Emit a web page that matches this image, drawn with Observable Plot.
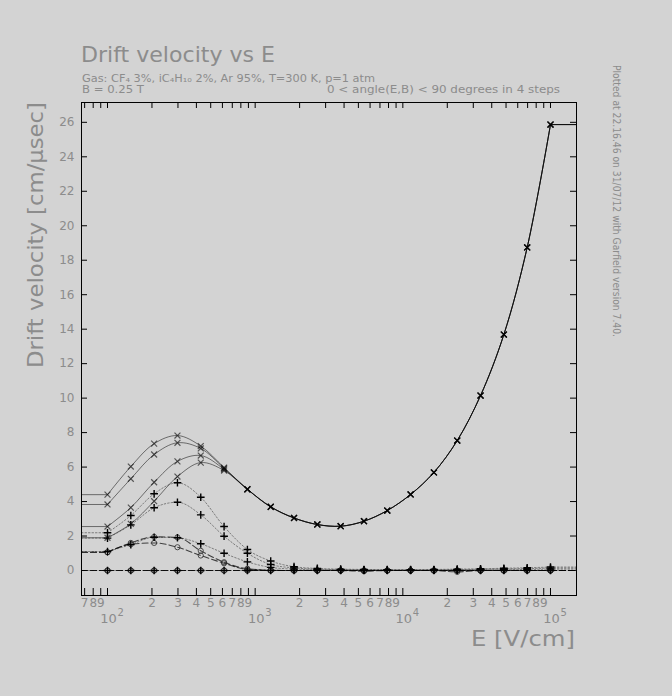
<!DOCTYPE html>
<html><head><meta charset="utf-8">
<script src="https://cdn.jsdelivr.net/npm/d3@7"></script>
<script src="https://cdn.jsdelivr.net/npm/@observablehq/plot@0.6"></script>
<style>
html,body{margin:0;padding:0;background:#d3d3d3;}
#chart{position:relative;width:672px;height:696px;overflow:hidden;}
</style></head><body><div id="chart"></div>
<script>
// ---- data ----
const E = [100, 143.84, 206.91, 297.64, 428.13, 615.85, 885.87, 1274.27, 1832.98, 2636.65,
  3792.69, 5455.59, 7847.60, 11288.38, 16237.77, 23357.21, 33598.18, 48329.30, 69519.28, 100000];
// velocity component along E, for angle(E,B) = 0, 30, 60, 90 degrees
const vE0  = [4.40, 6.03, 7.36, 7.83, 7.22, 5.97, 4.72, 3.70, 3.05, 2.67, 2.57, 2.86, 3.48, 4.41, 5.69, 7.54, 10.15, 13.69, 18.74, 25.87];
const vE30 = [3.83, 5.32, 6.73, 7.41, 7.08, 5.93, 4.72, 3.70, 3.05, 2.67, 2.57, 2.86, 3.48, 4.41, 5.69, 7.54, 10.15, 13.69, 18.74, 25.87];
const vE60 = [2.55, 3.65, 5.12, 6.33, 6.67, 5.87, 4.71, 3.69, 3.05, 2.67, 2.57, 2.86, 3.48, 4.41, 5.69, 7.54, 10.15, 13.69, 18.74, 25.87];
const vE90 = [1.90, 2.71, 4.02, 5.45, 6.26, 5.80, 4.70, 3.68, 3.04, 2.66, 2.57, 2.86, 3.48, 4.41, 5.69, 7.54, 10.15, 13.69, 18.74, 25.87];
// velocity component along E x B
const vExB0  = [0, 0, 0, 0, 0, 0, 0, 0, 0, 0, 0, 0, 0, 0, 0, 0, 0, 0, 0, 0];
const vExB30 = [1.10, 1.50, 1.93, 1.90, 1.55, 1.00, 0.50, 0.18, 0.08, 0.04, 0.03, 0.02, 0.02, 0.02, 0.02, 0.03, 0.04, 0.05, 0.06, 0.08];
const vExB60 = [1.88, 2.65, 3.64, 3.96, 3.23, 1.99, 1.00, 0.35, 0.15, 0.08, 0.05, 0.04, 0.03, 0.03, 0.04, 0.05, 0.07, 0.09, 0.11, 0.14];
const vExB90 = [2.19, 3.19, 4.45, 5.09, 4.25, 2.55, 1.22, 0.55, 0.22, 0.12, 0.08, 0.06, 0.05, 0.05, 0.06, 0.08, 0.10, 0.13, 0.16, 0.20];
// velocity component along Btrans
const vBt0  = [0, 0, 0, 0, 0, 0, 0, 0, 0, 0, 0, 0, 0, 0, 0, 0, 0, 0, 0, 0];
const vBt30 = [1.06, 1.60, 1.95, 1.92, 1.14, 0.48, 0.10, 0.02, 0, 0, 0, -0.04, 0, 0, 0, -0.08, 0, 0, 0, 0];
const vBt60 = [1.06, 1.52, 1.60, 1.35, 0.87, 0.42, 0.06, 0.01, 0, 0, 0, 0, 0, 0, 0, 0, 0, 0, 0, 0];
const vBt90 = [0, 0, 0, 0, 0, 0, 0, 0, 0, 0, 0, 0, 0, 0, 0, 0, 0, 0, 0, 0];

const xDomain = [66.6667, 150000];
const yDomain = [-1.45, 27.15];
const yTicks = [0, 2, 4, 6, 8, 10, 12, 14, 16, 18, 20, 22, 24, 26];
const yLabels = ["0","2","4","6","8","10","12","14","16","18","20","22","24","26"];
const minorTicks = [70, 80, 90, 200, 300, 400, 500, 600, 700, 800, 900,
  2000, 3000, 4000, 5000, 6000, 7000, 8000, 9000,
  20000, 30000, 40000, 50000, 60000, 70000, 80000, 90000];
const minorLabels = ["7","8","9","2","3","4","5","6","7","8","9",
  "2","3","4","5","6","7","8","9","2","3","4","5","6","7","8","9"];
const majorTicks = [100, 1000, 10000, 100000];
const majorExp = ["2", "3", "4", "5"];

const title = "Drift velocity vs E";
const gasLine = "Gas: CF\u2084 3%, iC\u2084H\u2081\u2080 2%, Ar 95%, T=300 K, p=1 atm";
const bLine = "B = 0.25 T";
const angleLine = "0 < angle(E,B) < 90 degrees in 4 steps";
const xTitle = "E [V/cm]";
const yTitle = "Drift velocity [cm/\u03BCsec]";
const stamp = "Plotted at 22.16.46 on 31/07/12 with Garfield version 7.40.";

// ---- build table ----
const series = [
  {key: "E0", comp: "E", values: vE0}, {key: "E30", comp: "E", values: vE30},
  {key: "E60", comp: "E", values: vE60}, {key: "E90", comp: "E", values: vE90},
  {key: "X0", comp: "ExB", values: vExB0}, {key: "X30", comp: "ExB", values: vExB30},
  {key: "X60", comp: "ExB", values: vExB60}, {key: "X90", comp: "ExB", values: vExB90},
  {key: "B0", comp: "Bt", values: vBt0}, {key: "B30", comp: "Bt", values: vBt30},
  {key: "B60", comp: "Bt", values: vBt60}, {key: "B90", comp: "Bt", values: vBt90}
];
const rows = series.flatMap(s => s.values.map((v, i) => ({key: s.key, comp: s.comp, E: E[i], v})));
const ext = series.flatMap(s => {
  const n = s.values.length;
  return [
    {key: s.key + "L", comp: s.comp, E: xDomain[0], v: s.values[0]},
    {key: s.key + "L", comp: s.comp, E: E[0], v: s.values[0]},
    {key: s.key + "R", comp: s.comp, E: E[n - 1], v: s.values[n - 1]},
    {key: s.key + "R", comp: s.comp, E: xDomain[1], v: s.values[n - 1]}
  ];
});
const styles = {
  E:   {stroke: "#000", strokeOpacity: 0.5, strokeWidth: 1},
  ExB: {stroke: "#333", strokeOpacity: 0.55, strokeWidth: 1, strokeDasharray: "1.5,2"},
  Bt:  {stroke: "#000", strokeOpacity: 0.7, strokeWidth: 1.1, strokeDasharray: "6,3"}
};

const W = 672, H = 696, mL = 81, mR = 96, mT = 102, mB = 101;
const plotW = W - mL - mR, plotH = H - mT - mB;
const gray = "#8c8c8c";
const font = "DejaVu Sans, sans-serif";

const lineMarks = ["E", "ExB", "Bt"].flatMap(c => [
  Plot.line(rows.filter(d => d.comp === c), {x: "E", y: "v", z: "key",
    curve: c === "E" ? "catmull-rom" : "monotone-x", ...styles[c]}),
  Plot.line(ext.filter(d => d.comp === c), {x: "E", y: "v", z: "key", ...styles[c]})
]);

const chart = Plot.plot({
  width: W, height: H, marginLeft: mL, marginRight: mR, marginTop: mT, marginBottom: mB,
  style: {background: "#d3d3d3", fontFamily: font, overflow: "visible"},
  x: {type: "log", domain: xDomain, axis: null},
  y: {domain: yDomain, axis: null},
  marks: [
    Plot.ruleX(minorTicks.concat(majorTicks), {x: d => d, insetTop: plotH - 7, stroke: "#000"}),
    Plot.ruleX(minorTicks.concat(majorTicks), {x: d => d, insetBottom: plotH - 6, stroke: "#000"}),
    Plot.ruleY(yTicks, {y: d => d, insetRight: plotW - 6, stroke: "#000"}),
    Plot.ruleY(yTicks, {y: d => d, insetLeft: plotW - 6, stroke: "#000"}),
    ...lineMarks,
    Plot.dot(rows.filter(d => d.comp === "Bt"), {x: "E", y: "v", symbol: "circle", r: 2.6, stroke: "#222", strokeOpacity: 0.75, fill: "none", strokeWidth: 1}),
    Plot.dot(rows.filter(d => d.comp === "E"), {x: "E", y: "v", symbol: "times", r: 2.8, stroke: "#000", strokeOpacity: 0.6, strokeWidth: 1.2}),
    Plot.dot(rows.filter(d => d.comp === "ExB"), {x: "E", y: "v", symbol: "plus", r: 2.6, stroke: "#000", strokeWidth: 1.4}),
    Plot.frame({stroke: "#000", strokeWidth: 1}),
    Plot.text(yTicks, {y: d => d, frameAnchor: "left", dx: -7, textAnchor: "end", text: (d, i) => yLabels[i], fill: gray, fontSize: 12}),
    Plot.text(minorTicks, {x: d => d, frameAnchor: "bottom", dy: 11, text: (d, i) => minorLabels[i], fill: gray, fontSize: 12}),
    Plot.text(majorTicks, {x: d => d, frameAnchor: "bottom", dy: 27, dx: 1, text: () => "10", fill: gray, fontSize: 13}),
    Plot.text(majorTicks, {x: d => d, frameAnchor: "bottom", dy: 20, dx: 10, textAnchor: "start", text: (d, i) => majorExp[i], fill: gray, fontSize: 10})
  ]
});
document.getElementById("chart").appendChild(chart);

// ---- annotations ----
const svg = d3.select(chart);
function addText(x, y, str, o = {}) {
  const t = svg.append("text").attr("x", x).attr("y", y)
    .attr("fill", gray).attr("font-family", font)
    .attr("font-size", o.size || 10).attr("text-anchor", o.anchor || "start");
  if (o.len) t.attr("textLength", o.len).attr("lengthAdjust", "spacingAndGlyphs");
  if (o.rotate) t.attr("transform", `rotate(${o.rotate},${x},${y})`);
  t.text(str);
  return t;
}
addText(81, 62, title, {size: 22, len: 194});
addText(82, 82, gasLine, {size: 10.5, len: 293});
addText(82, 93, bLine, {size: 10.5, len: 62});
addText(560, 93, angleLine, {size: 10.5, anchor: "end", len: 233});
addText(43, 102, yTitle, {size: 22, anchor: "end", rotate: -90, len: 266});
addText(575, 646, xTitle, {size: 22, anchor: "end", len: 104});
addText(613, 65, stamp, {size: 10, rotate: 90, len: 272});
</script>
</body></html>
